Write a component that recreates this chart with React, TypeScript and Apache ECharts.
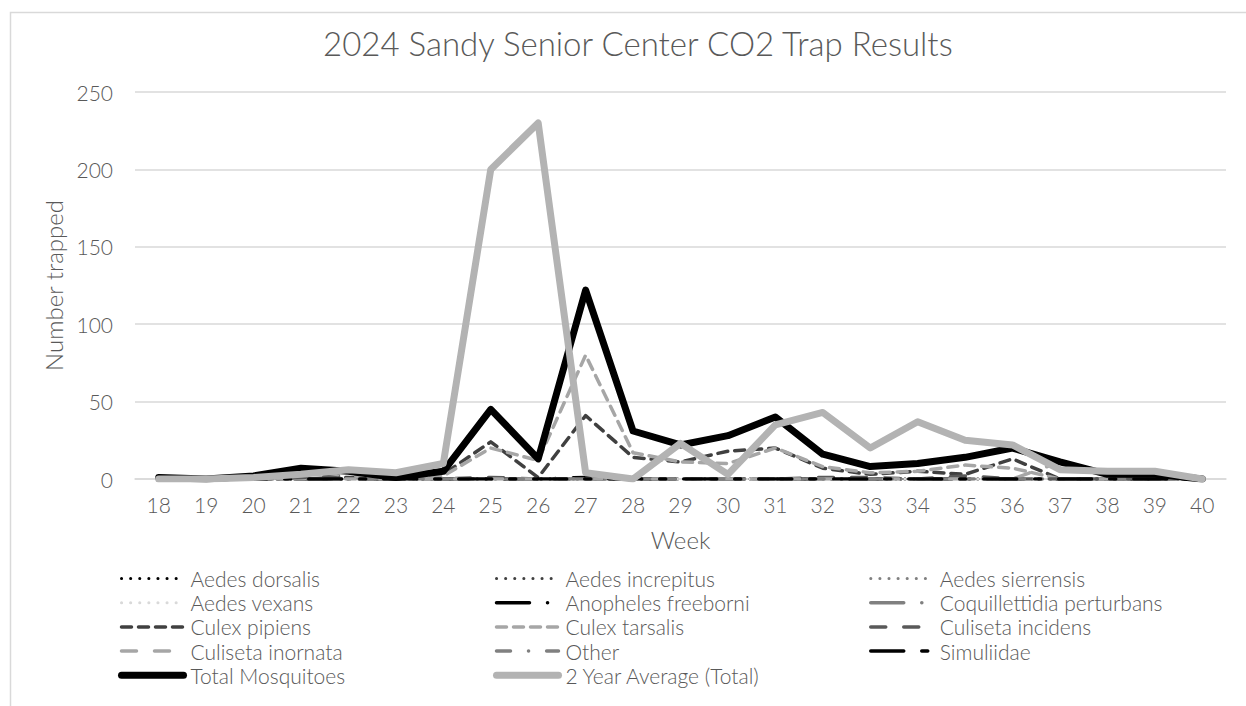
import React, { useEffect, useRef } from "react";
import * as echarts from "echarts";

const weeks = ["18","19","20","21","22","23","24","25","26","27","28","29","30","31","32","33","34","35","36","37","38","39","40"];

const aedesDorsalis = [0,0,0,0,0,0,0,0,0,0,0,0,0,0,0,0,0,0,0,0,0,0,0];
const aedesIncrepitus = [0,0,0,0,0,0,0,0,0,0,0,0,0,0,0,0,0,0,0,0,0,0,0];
const aedesSierrensis = [0,0,0,0,0,0,0,0,0,0,0,0,0,0,0,0,0,0,0,0,0,0,0];
const aedesVexans = [0,0,0,0,0,0,0,0,0,0,0,0,0,0,0,0,0,0,0,0,0,0,0];
const anophelesFreeborni = [0,0,0,0,0,0,0,0,0,1,0,0,0,0,0,0,0,0,0,0,0,0,0];
const coquillettidia = [0,0,0,0,0,0,0,0,0,0,0,0,0,0,0,0,0,0,0,0,0,0,0];
const culexPipiens = [0,0,0,0,1,0,3,24,1,41,14,11,18,20,7,3,5,3,13,0,0,0,0];
const culexTarsalis = [0,0,0,0,0,0,2,20,12,80,17,11,10,20,8,4,5,9,7,0,0,0,0];
const culisetaIncidens = [0,0,0,1,2,0,0,1,0,0,0,0,0,0,1,1,0,2,0,0,0,1,0];
const culisetaInornata = [1,0,2,6,2,1,0,0,0,0,0,0,0,0,0,0,0,0,0,11,3,2,0];
const other = [0,0,0,0,0,0,0,0,0,0,0,0,0,0,0,0,0,0,0,0,0,0,0];
const simuliidae = [0,0,0,0,0,0,0,0,0,0,0,0,0,0,0,0,0,0,0,0,0,0,0];
const totalMosquitoes = [1,0,2,7,5,1,5,45,13,122,31,22,28,40,16,8,10,14,20,11,3,3,0];
const twoYearAverage = [0,0,1,3,6,4,10,200,230,4,0,23,3,35,43,20,37,25,22,6,5,5,0];

const yTicks = { min: 0, max: 250, interval: 50 };

const TXT = "#595959";
const FONT = "Lato";

type Def = { name: string; data: number[]; color: string; width: number; dash: any };

const defs: Def[] = [
  { name: "Aedes dorsalis", data: aedesDorsalis, color: "#000000", width: 3, dash: [0.1, 9] },
  { name: "Aedes increpitus", data: aedesIncrepitus, color: "#404040", width: 3, dash: [0.1, 9] },
  { name: "Aedes sierrensis", data: aedesSierrensis, color: "#808080", width: 3, dash: [0.1, 9] },
  { name: "Aedes vexans", data: aedesVexans, color: "#d9d9d9", width: 3, dash: [0.1, 9] },
  { name: "Anopheles freeborni", data: anophelesFreeborni, color: "#000000", width: 3.5, dash: [33, 18, 0.1, 18] },
  { name: "Coquillettidia perturbans", data: coquillettidia, color: "#808080", width: 3.5, dash: [33, 18, 0.1, 18] },
  { name: "Culex pipiens", data: culexPipiens, color: "#404040", width: 3.5, dash: [10, 7] },
  { name: "Culex tarsalis", data: culexTarsalis, color: "#a6a6a6", width: 3.5, dash: [10, 7] },
  { name: "Culiseta incidens", data: culisetaIncidens, color: "#595959", width: 3.5, dash: [15, 18] },
  { name: "Culiseta inornata", data: culisetaInornata, color: "#a6a6a6", width: 3.5, dash: [15, 18] },
  { name: "Other", data: other, color: "#808080", width: 3.5, dash: [14, 18, 0.1, 18] },
  { name: "Simuliidae", data: simuliidae, color: "#000000", width: 3.5, dash: [33, 18, 6, 18] },
  { name: "Total Mosquitoes", data: totalMosquitoes, color: "#000000", width: 7, dash: "solid" },
  { name: "2 Year Average (Total)", data: twoYearAverage, color: "#b3b3b3", width: 7, dash: "solid" },
];

const legendCols = [
  ["Aedes dorsalis", "Aedes vexans", "Culex pipiens", "Culiseta inornata", "Total Mosquitoes"],
  ["Aedes increpitus", "Anopheles freeborni", "Culex tarsalis", "Other", "2 Year Average (Total)"],
  ["Aedes sierrensis", "Coquillettidia perturbans", "Culiseta incidens", "Simuliidae"],
];
const legendLefts = [118, 493, 869];

export default function App() {
  const ref = useRef<HTMLDivElement>(null);
  useEffect(() => {
    document.body.style.margin = "0";
    if (!ref.current) return;
    const chart = echarts.init(ref.current, undefined, { renderer: "svg" });
    const byName: Record<string, Def> = {};
    defs.forEach((d) => (byName[d.name] = d));
    chart.setOption({
      animation: false,
      textStyle: { fontFamily: FONT, fontWeight: 300, color: TXT },
      title: {
        text: "2024 Sandy Senior Center CO2 Trap Results",
        left: 318,
        top: 21,
        textStyle: { fontFamily: FONT, fontWeight: 300, fontSize: 33, color: TXT },
      },
      graphic: [
        {
          type: "rect",
          silent: true,
          z: -10,
          shape: { x: 10.5, y: 12.5, width: 1300, height: 800 },
          style: { fill: "none", stroke: "#d9d9d9", lineWidth: 1.5 },
        },
      ],
      grid: { left: 135, right: 20, top: 92, bottom: 227 },
      legend: legendCols.map((col, i) => ({
        orient: "vertical",
        left: legendLefts[i],
        top: 568,
        padding: 0,
        itemWidth: 62,
        itemHeight: 20,
        itemGap: 3.2,
        selectedMode: false,
        itemStyle: { opacity: 0, color: "rgba(0,0,0,0)", borderWidth: 0 },
        textStyle: { fontFamily: FONT, fontWeight: 300, fontSize: 21, lineHeight: 20, color: TXT, padding: [0, 0, 0, 2] },
        data: col.map((n) => ({
          name: n,
          itemStyle: { opacity: 0, color: "rgba(0,0,0,0)", borderWidth: 0 },
          lineStyle: { width: byName[n].width, cap: "round" },
        })),
      })),
      xAxis: {
        type: "category",
        data: weeks,
        boundaryGap: true,
        name: "Week",
        nameLocation: "middle",
        nameGap: 48,
        nameTextStyle: { fontFamily: FONT, fontWeight: 300, fontSize: 24, color: TXT },
        axisLine: { lineStyle: { color: "#d9d9d9", width: 1.5 } },
        axisTick: { show: false },
        axisLabel: { fontFamily: FONT, fontWeight: 300, fontSize: 21, color: TXT, margin: 15 },
      },
      yAxis: {
        type: "value",
        min: yTicks.min,
        max: yTicks.max,
        interval: yTicks.interval,
        name: "Number trapped",
        nameLocation: "middle",
        nameGap: 63,
        nameTextStyle: { fontFamily: FONT, fontWeight: 300, fontSize: 24, color: TXT },
        axisLine: { show: false },
        axisTick: { show: false },
        splitLine: { lineStyle: { color: "#d9d9d9", width: 1.5 } },
        axisLabel: { fontFamily: FONT, fontWeight: 300, fontSize: 21, color: TXT, margin: 22 },
      },
      series: defs.map((d) => ({
        name: d.name,
        type: "line",
        data: d.data,
        symbol: "none",
        showSymbol: false,
        emphasis: { disabled: true },
        silent: true,
        color: d.color,
        lineStyle: { color: d.color, width: d.width, type: d.dash, cap: "round", join: "round" },
      })),
    });
    return () => chart.dispose();
  }, []);
  return <div ref={ref} style={{ width: 1246, height: 706 }} />;
}
